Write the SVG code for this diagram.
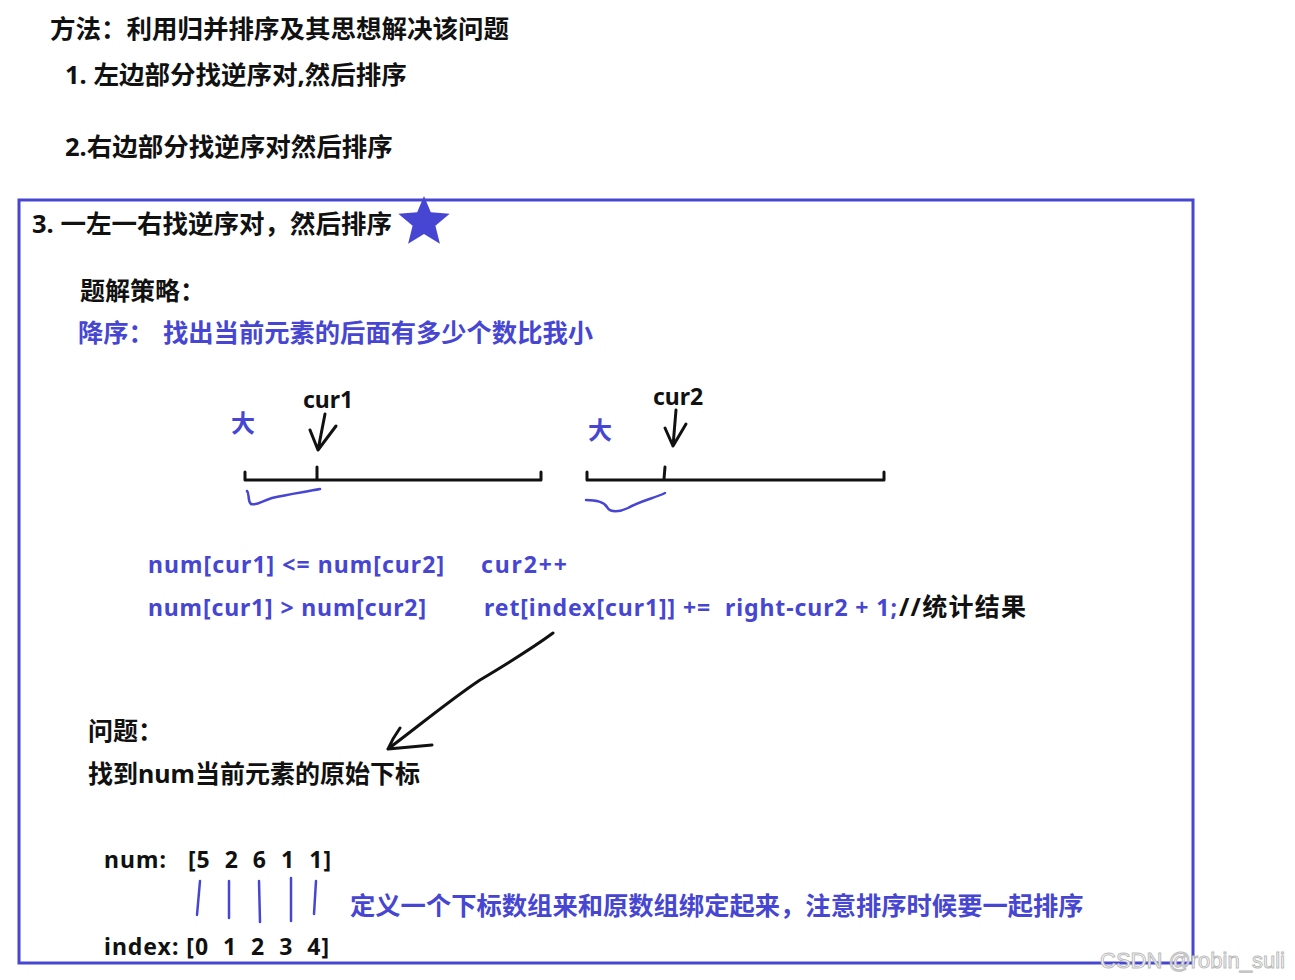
<svg xmlns="http://www.w3.org/2000/svg" width="1295" height="980" viewBox="0 0 1295 980">
<style>
.t{font-family:"Noto Sans","Noto Sans CJK SC",sans-serif;font-weight:bold;fill:#111}
.b{font-family:"Noto Sans","Noto Sans CJK SC",sans-serif;font-weight:bold;fill:#4646d2}
.ink{fill:none;stroke:#111;stroke-width:3;stroke-linecap:round;stroke-linejoin:round}
.blu{fill:none;stroke:#4646d2;stroke-width:2.5;stroke-linecap:round;stroke-linejoin:round}
</style>
<rect width="1295" height="980" fill="#fff"/>
<g id="header">
<text class="t" x="50" y="38" font-size="25.5">方法：利用归并排序及其思想解决该问题</text>
<text class="t" x="65" y="84" font-size="25.5">1. 左边部分找逆序对,然后排序</text>
<text class="t" x="65" y="156" font-size="25.5">2.右边部分找逆序对然后排序</text>
</g>
<g id="box">
<rect x="19" y="200" width="1174" height="763" fill="none" stroke="#4646d2" stroke-width="3"/>
<text class="t" x="32" y="233" font-size="25.5">3. 一左一右找逆序对，然后排序</text>
<polygon points="424,196 430.8,212.3 449.7,213.7 435.4,225.7 439.9,243.8 424,234 408.1,243.8 412.6,225.7 398.3,213.7 417.2,212.3" fill="#4646d2"/>
<text class="t" x="80" y="300" font-size="25">题解策略：</text>
<text class="b" x="78" y="342" font-size="25.3">降序：</text>
<text class="b" x="163" y="342" font-size="25.3">找出当前元素的后面有多少个数比我小</text>
</g>
<g id="arrays">
<text class="b" x="231" y="432" font-size="24">大</text>
<text class="b" x="588" y="439" font-size="24">大</text>
<text class="t" x="303" y="408" font-size="23">cur1</text>
<text class="t" x="653" y="405" font-size="23" font-weight="normal">cur2</text>
<path class="ink" d="M325 414 L318 450 M310 430 L318 450 L336 426"/>
<path class="ink" d="M676 410 L673 446 M665 428 L673 446 L686 424"/>
<path class="ink" d="M245 472 V480 H541 V472 M317 467 V480"/>
<path class="ink" d="M587 472 V480 H884 V472 M665 467 L664 479"/>
<path class="blu" d="M247 491 C250 494 247 500 251 504 C256 506 262 501 272 498 C288 494 305 492 320 489"/>
<path class="blu" d="M586 500 C596 500 604 502 607 507 C610 513 620 512 628 508 C640 501 655 498 665 493"/>
</g>
<g id="code">
<text class="b" x="148" y="573" font-size="23" textLength="296" xml:space="preserve">num[cur1] &lt;= num[cur2]</text>
<text class="b" x="481" y="573" font-size="23" textLength="86">cur2++</text>
<text class="b" x="148" y="616" font-size="23" textLength="278" xml:space="preserve">num[cur1] &gt; num[cur2]</text>
<text class="b" x="484" y="616" font-size="23" textLength="413" xml:space="preserve">ret[index[cur1]] +=  right-cur2 + 1;</text>
<text class="t" x="899" y="616" font-size="25" textLength="127">//统计结果</text>
</g>
<g id="connectors">
<path class="ink" d="M553 633 C530 650 505 665 480 680 C450 700 420 725 388 749 M400 728 C395 735 391 742 388 749 L432 745"/>
</g>
<g id="question">
<text class="t" x="88" y="740" font-size="25">问题：</text>
<text class="t" x="88" y="783" font-size="25">找到num当前元素的原始下标</text>
</g>
<g id="index">
<text class="t" x="104" y="868" font-size="23" textLength="227" xml:space="preserve">num:   [5  2  6  1  1]</text>
<text class="t" x="104" y="955" font-size="23" textLength="225" xml:space="preserve">index: [0  1  2  3  4]</text>
<path class="blu" d="M200 881 L197 915 M229 881 L229 918 M259 881 L260 922 M291 878 L291 921 M316 881 L314 914"/>
<text class="b" x="350" y="915" font-size="25.3">定义一个下标数组来和原数组绑定起来，注意排序时候要一起排序</text>
</g>
<text x="1100" y="968" font-family="Liberation Sans,sans-serif" font-size="22" fill="#fff" stroke="#bbb" stroke-width="1">CSDN @robin_suli</text>
</svg>
